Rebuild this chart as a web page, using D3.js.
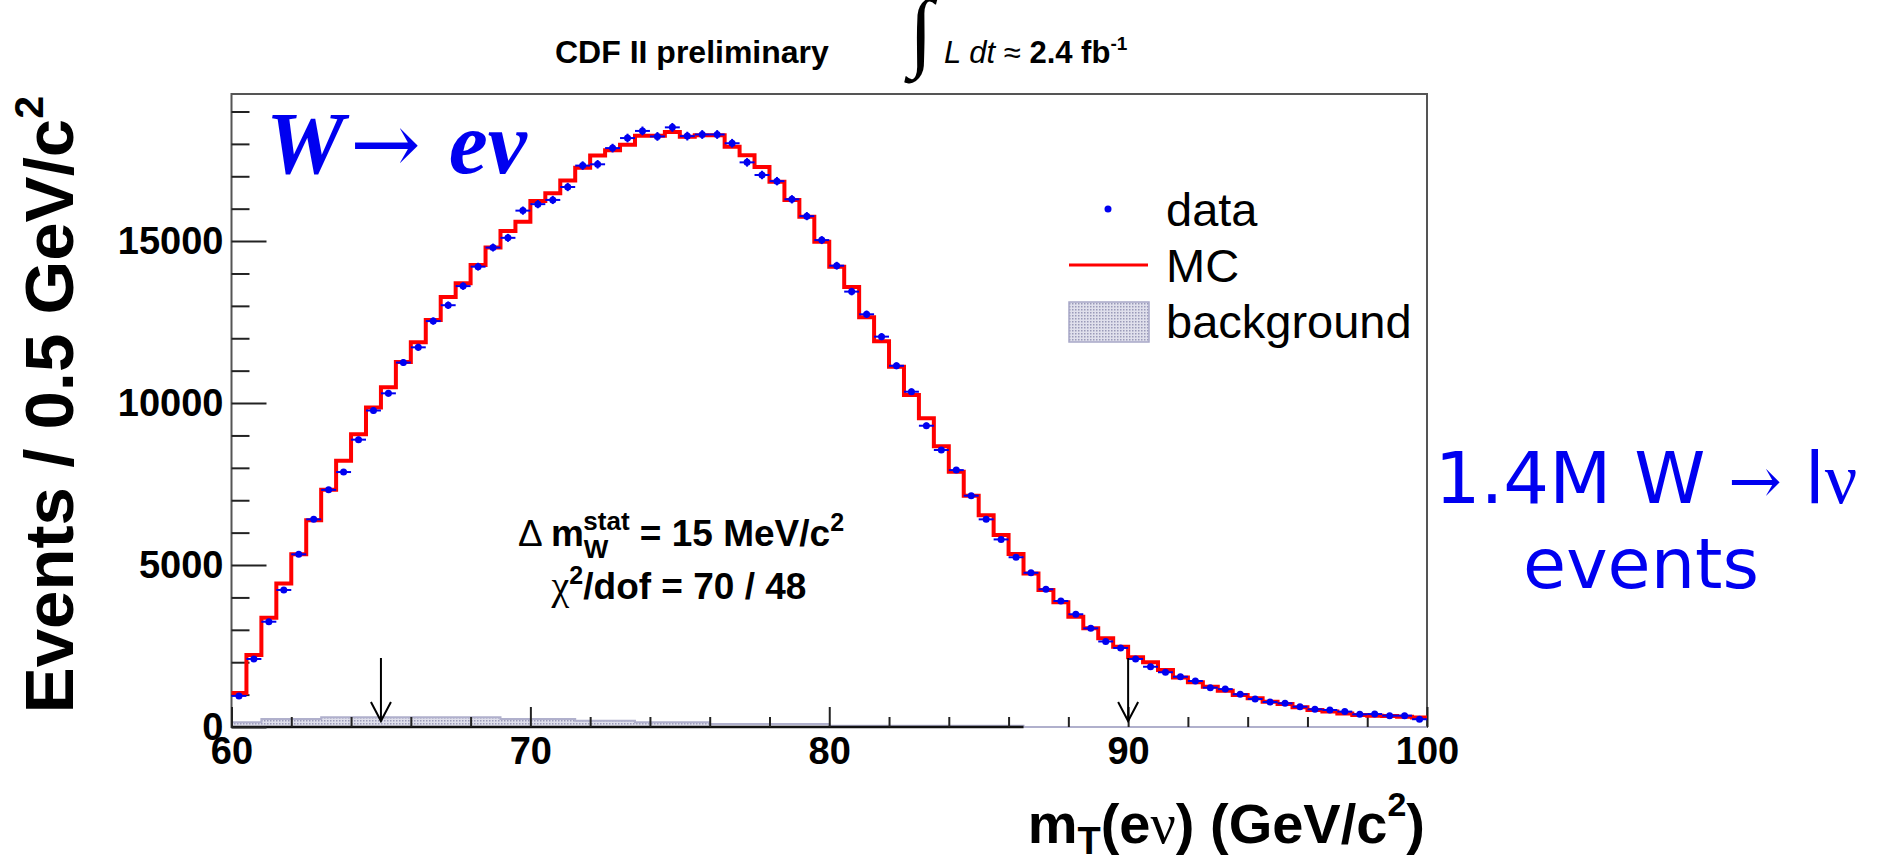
<!DOCTYPE html>
<html>
<head>
<meta charset="utf-8">
<script src="https://cdn.jsdelivr.net/npm/d3@7"></script>
<style>
  body { margin: 0; background: #fff; }
  svg { display: block; font-family: "Liberation Sans", Arial, sans-serif; }
</style>
</head>
<body>
<svg id="chart" width="1883" height="859"></svg>
<script>
// 80 bins of 0.5 GeV/c^2 between 60 and 100
const binLow = 60;
const binWidth = 0.5;

const mcCounts = [
  1050, 2220, 3370, 4430, 5330, 6380, 7320, 8220, 9040, 9860,
  10490, 11270, 11880, 12560, 13270, 13700, 14260, 14800, 15310, 15600,
  16240, 16480, 16870, 17260, 17640, 17800, 17970, 18250, 18250, 18370,
  18220, 18270, 18270, 17910, 17650, 17290, 16830, 16270, 15750, 14980,
  14210, 13580, 12650, 11910, 11120, 10250, 9530, 8670, 7880, 7140,
  6540, 5930, 5340, 4740, 4230, 3850, 3400, 3050, 2740, 2480,
  2150, 2000, 1760, 1530, 1380, 1245, 1120, 990, 885, 780,
  710, 610, 525, 475, 420, 370, 350, 340, 320, 290
];

const dataCounts = [
  960, 2100, 3250, 4230, 5330, 6410, 7320, 7870, 8870, 9770,
  10300, 11250, 11720, 12530, 13020, 13610, 14210, 14800, 15100, 15940,
  16140, 16270, 16670, 17330, 17370, 17870, 18180, 18400, 18230, 18510,
  18240, 18290, 18290, 18020, 17430, 17040, 16850, 16290, 15770, 15030,
  14240, 13440, 12740, 12050, 11150, 10350, 9300, 8550, 7930, 7140,
  6410, 5790, 5240, 4760, 4250, 3890, 3480, 3045, 2640, 2440,
  2100, 1860, 1690, 1550, 1420, 1215, 1170, 1010, 865, 770,
  730, 625, 545, 525, 475, 390, 400, 350, 350, 240
];

const bkgCounts = [
  145, 145, 245, 245, 245, 245, 300, 300, 300, 300,
  300, 300, 300, 300, 300, 300, 300, 300, 245, 245,
  245, 245, 245, 195, 195, 195, 195, 145, 145, 145,
  145, 145, 95, 95, 95, 95, 95, 95, 95, 95,
  35, 35, 35, 35, 35, 35, 35, 35, 35, 35,
  35, 35, 35, 0, 0, 0, 0, 0, 0, 0,
  0, 0, 0, 0, 0, 0, 0, 0, 0, 0,
  0, 0, 0, 0, 0, 0, 0, 0, 0, 0
];

const yMajorTicks = [0, 5000, 10000, 15000];
const yMinorTicks = [1000, 2000, 3000, 4000, 6000, 7000, 8000, 9000, 11000, 12000, 13000, 14000, 16000, 17000, 18000, 19000];
const xMajorTicks = [60, 70, 80, 90, 100];
const xMinorTicks = [62, 64, 66, 68, 72, 74, 76, 78, 82, 84, 86, 88, 92, 94, 96, 98];
const cutValues = [65, 90];
const legendItems = ['data', 'MC', 'background'];

const blue = '#0000f0';
const svg = d3.select('#chart');

const x = d3.scaleLinear().domain([60, 100]).range([231.5, 1427]);
const y = d3.scaleLinear().domain([0, 19540]).range([727, 94]);

// dotted fill used by ROOT for the background histogram
const defs = svg.append('defs');
const pat = defs.append('pattern').attr('id', 'dots')
  .attr('width', 3).attr('height', 3).attr('patternUnits', 'userSpaceOnUse');
pat.append('rect').attr('width', 3).attr('height', 3).attr('fill', '#e0e0ec');
pat.append('rect').attr('width', 1.5).attr('height', 1.5).attr('fill', '#9a9ab8');

// histogram -> list of [edge, value] including closing edge
function steps(counts) {
  let pts = counts.map((v, i) => [binLow + i * binWidth, v]);
  pts.push([binLow + counts.length * binWidth, counts[counts.length - 1]]);
  return pts;
}

// frame
svg.append('rect')
  .attr('x', x(60)).attr('y', y.range()[1])
  .attr('width', x(100) - x(60)).attr('height', y(0) - y.range()[1])
  .attr('fill', 'none').attr('stroke', '#555').attr('stroke-width', 2);

// background
let bkgArea = d3.area().curve(d3.curveStepAfter)
  .x(d => x(d[0])).y0(y(0)).y1(d => y(d[1]));
let bkgLine = d3.line().curve(d3.curveStepAfter)
  .x(d => x(d[0])).y(d => y(d[1]));

svg.append('path').datum(steps(bkgCounts))
  .attr('d', bkgArea).attr('fill', 'url(#dots)');
svg.append('path').datum(steps(bkgCounts))
  .attr('d', bkgLine).attr('fill', 'none')
  .attr('stroke', '#b0b0cc').attr('stroke-width', 2);

let lastBkg = d3.max(bkgCounts.map((v, i) => v > 0 ? i : 0)) + 1;
svg.append('line')
  .attr('x1', x(binLow)).attr('x2', x(binLow + lastBkg * binWidth))
  .attr('y1', y(0)).attr('y2', y(0))
  .attr('stroke', '#111').attr('stroke-width', 2.5);

// axes (ticks inside the frame, ROOT style)
const yAxis = svg.append('g').attr('transform', `translate(${x(60)},0)`)
  .call(d3.axisLeft(y).tickValues(yMajorTicks).tickSize(-35).tickPadding(8).tickFormat(d3.format('d')));
const yAxisMinor = svg.append('g').attr('transform', `translate(${x(60)},0)`)
  .call(d3.axisLeft(y).tickValues(yMinorTicks).tickSize(-18));
const xAxis = svg.append('g').attr('transform', `translate(0,${y(0)})`)
  .call(d3.axisBottom(x).tickValues(xMajorTicks).tickSize(-20).tickPadding(10));
const xAxisMinor = svg.append('g').attr('transform', `translate(0,${y(0)})`)
  .call(d3.axisBottom(x).tickValues(xMinorTicks).tickSize(-10));

// minor ticks carry no labels
yAxisMinor.selectAll('text').remove();
xAxisMinor.selectAll('text').remove();
svg.selectAll('.domain').remove();
svg.selectAll('.tick line').attr('stroke', '#222').attr('stroke-width', 2);
svg.selectAll('.tick text')
  .attr('font-family', '"Liberation Sans", Arial, sans-serif')
  .attr('font-size', 38).attr('font-weight', 'bold').attr('fill', '#000');

// MC histogram
let mcLine = d3.line().curve(d3.curveStepAfter)
  .x(d => x(d[0])).y(d => y(d[1]));
svg.append('path').datum(steps(mcCounts))
  .attr('d', mcLine).attr('fill', 'none')
  .attr('stroke', '#ff0000').attr('stroke-width', 4);

// data points with errors
let pts = svg.append('g').selectAll('g')
  .data(dataCounts)
  .enter()
  .append('g');
pts.append('line')
  .attr('x1', (d, i) => x(binLow + i * binWidth))
  .attr('x2', (d, i) => x(binLow + (i + 1) * binWidth))
  .attr('y1', d => y(d)).attr('y2', d => y(d))
  .attr('stroke', blue).attr('stroke-width', 2);
pts.append('line')
  .attr('x1', (d, i) => x(binLow + (i + 0.5) * binWidth))
  .attr('x2', (d, i) => x(binLow + (i + 0.5) * binWidth))
  .attr('y1', d => y(d - Math.sqrt(d))).attr('y2', d => y(d + Math.sqrt(d)))
  .attr('stroke', blue).attr('stroke-width', 2);
pts.append('circle')
  .attr('cx', (d, i) => x(binLow + (i + 0.5) * binWidth))
  .attr('cy', d => y(d))
  .attr('r', 3.5).attr('fill', blue);

// cut arrows
let arrows = svg.append('g').selectAll('g')
  .data(cutValues)
  .enter()
  .append('g')
  .attr('stroke', '#000').attr('stroke-width', 2).attr('fill', 'none');
arrows.append('line')
  .attr('x1', d => x(d)).attr('x2', d => x(d))
  .attr('y1', y(0) - 69).attr('y2', y(0) - 6);
arrows.append('path')
  .attr('d', d => `M${x(d) - 10},${y(0) - 25}L${x(d)},${y(0) - 6}L${x(d) + 10},${y(0) - 25}`);

// legend
let leg = svg.append('g').selectAll('g')
  .data(legendItems)
  .enter()
  .append('g')
  .attr('transform', (d, i) => `translate(1069,${209 + i * 56})`);
leg.append('text')
  .attr('x', 97).attr('y', 17)
  .attr('font-size', 47).attr('fill', '#000')
  .text(d => d);
leg.filter(d => d == 'data').append('circle')
  .attr('cx', 39).attr('cy', 0).attr('r', 3.5).attr('fill', blue);
leg.filter(d => d == 'MC').append('line')
  .attr('x1', 0).attr('x2', 79).attr('y1', 0).attr('y2', 0)
  .attr('stroke', '#ff0000').attr('stroke-width', 3);
leg.filter(d => d == 'background').append('rect')
  .attr('x', 0).attr('y', -19).attr('width', 80).attr('height', 40)
  .attr('fill', 'url(#dots)').attr('stroke', '#a8a8c8').attr('stroke-width', 1.5);

// header
svg.append('text')
  .attr('x', 555).attr('y', 63)
  .attr('font-size', 32).attr('font-weight', 'bold')
  .text('CDF II preliminary');
svg.append('text')
  .attr('x', 909).attr('y', 60)
  .attr('font-family', '"Liberation Serif", serif').attr('font-size', 88)
  .text('∫');
let lumi = svg.append('text').attr('x', 944).attr('y', 63).attr('font-size', 31);
lumi.append('tspan').attr('font-style', 'italic').text('L dt');
lumi.append('tspan').text(' ≈ ');
lumi.append('tspan').attr('font-weight', 'bold').text('2.4 fb');
lumi.append('tspan').attr('font-weight', 'bold').attr('font-size', 19).attr('dy', -13).text('-1');

// W -> e nu label
let wev = svg.append('text').attr('x', 266).attr('y', 173)
  .attr('fill', blue).attr('font-family', '"Liberation Serif", serif').attr('font-size', 88);
wev.append('tspan').attr('font-style', 'italic').attr('font-weight', 'bold').text('W');
wev.append('tspan').attr('font-family', '"DejaVu Serif", serif').attr('font-size', 84).attr('dx', 6).text('→');
wev.append('tspan').attr('font-style', 'italic').attr('font-weight', 'bold').attr('dx', 28).text('eν');

// fit results
let dm = svg.append('text').attr('x', 681).attr('y', 546)
  .attr('text-anchor', 'middle').attr('font-size', 37).attr('font-weight', 'bold');
dm.append('tspan').attr('font-weight', 'normal').text('Δ ');
dm.append('tspan').text('m');
dm.append('tspan').attr('font-size', 26).attr('dy', 12).text('W');
dm.append('tspan').attr('font-size', 26).attr('dx', -25).attr('dy', -28).text('stat');
dm.append('tspan').attr('dy', 16).text(' = 15 MeV/c');
dm.append('tspan').attr('font-size', 25).attr('dy', -15).text('2');

let chi = svg.append('text').attr('x', 679).attr('y', 599)
  .attr('text-anchor', 'middle').attr('font-size', 37).attr('font-weight', 'bold');
chi.append('tspan').attr('font-family', '"Liberation Serif", serif').attr('font-weight', 'normal').attr('font-size', 40).text('χ');
chi.append('tspan').attr('font-size', 25).attr('dy', -15).text('2');
chi.append('tspan').attr('dy', 15).text('/dof = 70 / 48');

// axis titles
let xt = svg.append('text').attr('x', 1425).attr('y', 843)
  .attr('text-anchor', 'end').attr('font-size', 56).attr('font-weight', 'bold');
xt.append('tspan').text('m');
xt.append('tspan').attr('font-size', 38).attr('dy', 11).text('T');
xt.append('tspan').attr('dy', -11).text('(e');
xt.append('tspan').attr('font-family', '"Liberation Serif", serif').attr('font-weight', 'normal').text('ν');
xt.append('tspan').text(') (GeV/c');
xt.append('tspan').attr('font-size', 34).attr('dy', -27).text('2');
xt.append('tspan').attr('dy', 27).text(')');

let yt = svg.append('text').attr('transform', 'translate(73,96) rotate(-90)')
  .attr('text-anchor', 'end').attr('font-size', 69).attr('font-weight', 'bold');
yt.append('tspan').text('Events / 0.5 GeV/c');
yt.append('tspan').attr('font-size', 41).attr('dy', -30).text('2');

// side note
let note1 = svg.append('text').attr('x', 1646).attr('y', 503)
  .attr('text-anchor', 'middle').attr('font-family', '"DejaVu Sans", sans-serif')
  .attr('font-size', 72).attr('fill', blue);
note1.append('tspan').text('1.4M W ');
note1.append('tspan').attr('font-family', '"DejaVu Serif", serif').attr('font-size', 64).text('→');
note1.append('tspan').text(' l');
note1.append('tspan').attr('font-family', '"Liberation Serif", serif').text('ν');
svg.append('text').attr('x', 1641).attr('y', 588)
  .attr('text-anchor', 'middle').attr('font-family', '"DejaVu Sans", sans-serif')
  .attr('font-size', 70).attr('fill', blue)
  .text('events');
</script>
</body>
</html>
